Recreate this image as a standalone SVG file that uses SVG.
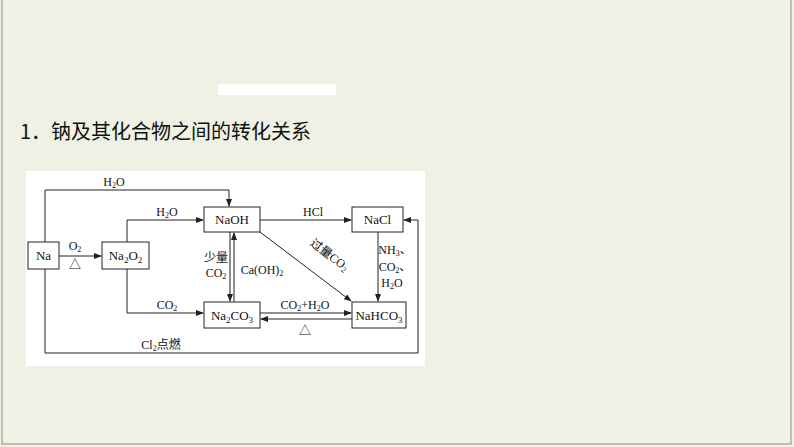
<svg xmlns="http://www.w3.org/2000/svg" width="794" height="447" viewBox="0 0 794 447">
<defs>
<marker id="a" markerWidth="8" markerHeight="6" refX="7" refY="3" orient="auto" markerUnits="userSpaceOnUse"><path d="M0,0 L8,3 L0,6 Z" fill="#222"/></marker>
<style>
.b{fill:#fff;stroke:#222;stroke-width:1}
.t{font-family:"Liberation Serif","Noto Sans CJK SC",serif;font-size:13px;fill:#111;text-anchor:middle}
.s{font-family:"Liberation Serif","Noto Sans CJK SC",serif;font-size:12px;fill:#111;text-anchor:middle}
.l{fill:none;stroke:#222;stroke-width:1}
</style>
</defs>
<rect x="0" y="0" width="794" height="447" fill="#eef1e4"/>
<path d="M2,0 V444 H791 V0" fill="none" stroke="#a9b39a" stroke-width="1.5"/>
<rect x="218" y="84" width="118" height="11" fill="#fff"/>
<text x="20" y="139" font-family="Noto Sans CJK SC,sans-serif" font-size="20" fill="#111">1．钠及其化合物之间的转化关系</text>
<rect x="26" y="171" width="399" height="195" fill="#fff"/>
<g id="connectors">
<path class="l" d="M45,242 V190 H229 V206" marker-end="url(#a)"/>
<path class="l" d="M59,256 H101" marker-end="url(#a)"/>
<path class="l" d="M127,242 V220 H203" marker-end="url(#a)"/>
<path class="l" d="M127,269 V313 H203" marker-end="url(#a)"/>
<path class="l" d="M260,220 H351" marker-end="url(#a)"/>
<path class="l" d="M230,232 V301" marker-end="url(#a)"/>
<path class="l" d="M234,302 V233" marker-end="url(#a)"/>
<path class="l" d="M260,232 L351,301" marker-end="url(#a)"/>
<path class="l" d="M378,232 V301" marker-end="url(#a)"/>
<path class="l" d="M260,313 H351" marker-end="url(#a)"/>
<path class="l" d="M352,319 H261" marker-end="url(#a)"/>
<path class="l" d="M45,269 V353 H418 V220 H404" marker-end="url(#a)"/>
</g>
<g id="labels">
<text class="s" x="114" y="186">H<tspan font-size="8" dy="2">2</tspan><tspan dy="-2">O</tspan></text>
<text class="s" x="75" y="250">O<tspan font-size="8" dy="2">2</tspan></text>
<text class="s" x="75" y="269">△</text>
<text class="s" x="167" y="216">H<tspan font-size="8" dy="2">2</tspan><tspan dy="-2">O</tspan></text>
<text class="s" x="167" y="309">CO<tspan font-size="8" dy="2">2</tspan></text>
<text class="s" x="313" y="216">HCl</text>
<text class="s" x="216" y="262">少量</text>
<text class="s" x="216" y="277">CO<tspan font-size="8" dy="2">2</tspan></text>
<text class="s" x="262" y="274">Ca(OH)<tspan font-size="8" dy="2">2</tspan></text>
<text class="s" transform="translate(327,258) rotate(37)">过量CO<tspan font-size="8" dy="2">2</tspan></text>
<text class="s" x="395" y="254">NH<tspan font-size="8" dy="2">3</tspan><tspan dy="-2">、</tspan></text>
<text class="s" x="395" y="271">CO<tspan font-size="8" dy="2">2</tspan><tspan dy="-2">、</tspan></text>
<text class="s" x="392" y="287">H<tspan font-size="8" dy="2">2</tspan><tspan dy="-2">O</tspan></text>
<text class="s" x="305" y="309">CO<tspan font-size="8" dy="2">2</tspan><tspan dy="-2">+H</tspan><tspan font-size="8" dy="2">2</tspan><tspan dy="-2">O</tspan></text>
<text class="s" x="305" y="335">△</text>
<text class="s" x="161" y="349">Cl<tspan font-size="8" dy="2">2</tspan><tspan dy="-2">点燃</tspan></text>
</g>
<g id="Na"><rect class="b" x="28" y="242" width="31" height="27"/><text class="t" x="43.5" y="260">Na</text></g>
<g id="Na2O2"><rect class="b" x="102" y="242" width="47" height="27"/><text class="t" x="125.5" y="260">Na<tspan font-size="9" dy="3">2</tspan><tspan dy="-3">O</tspan><tspan font-size="9" dy="3">2</tspan></text></g>
<g id="NaOH"><rect class="b" x="204" y="207" width="56" height="25"/><text class="t" x="232" y="224">NaOH</text></g>
<g id="NaCl"><rect class="b" x="352" y="207" width="51" height="25"/><text class="t" x="377.5" y="224">NaCl</text></g>
<g id="Na2CO3"><rect class="b" x="204" y="302" width="56" height="26"/><text class="t" x="232" y="320">Na<tspan font-size="9" dy="3">2</tspan><tspan dy="-3">CO</tspan><tspan font-size="9" dy="3">3</tspan></text></g>
<g id="NaHCO3"><rect class="b" x="352" y="302" width="54" height="26"/><text class="t" x="379" y="320">NaHCO<tspan font-size="9" dy="3">3</tspan></text></g>
</svg>
